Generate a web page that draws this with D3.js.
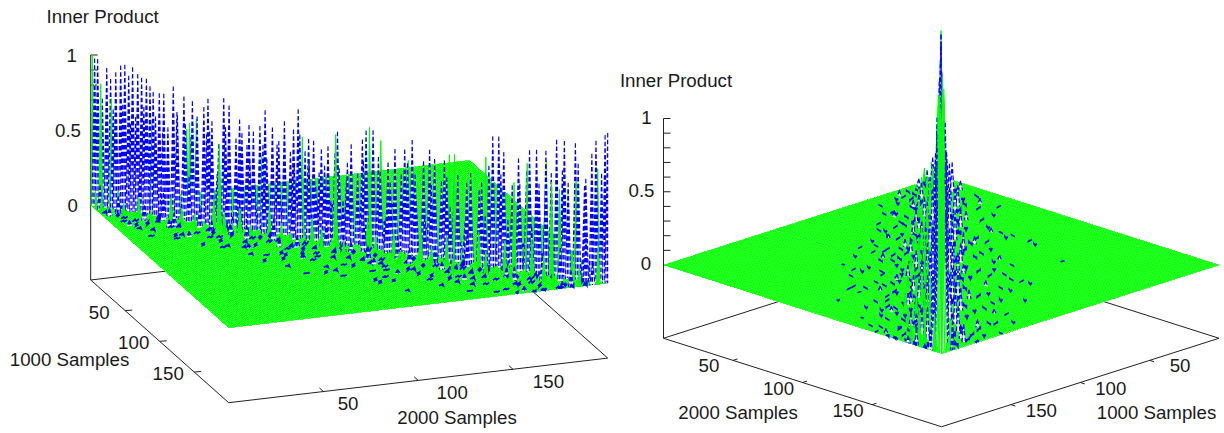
<!DOCTYPE html>
<html><head><meta charset="utf-8">
<script src="https://cdn.jsdelivr.net/npm/d3@7"></script>
<style>html,body{margin:0;background:#fff}svg{display:block}text{font-family:"Liberation Sans",Arial,sans-serif;font-size:18.7px;fill:#1a1a1a}</style>
</head><body><svg id="c" width="1224" height="433"></svg>
<script>
// Values. Position is given along the diagonal of the matrix (u) and across it (v).
const zTicks=[0,0.1,0.2,0.3,0.4,0.5,0.6,0.7,0.8,0.9,1];
const zTickLabels=[0,0.5,1];
const sampleTicks=[50,100,150];
const tallBlue=[[1.5,0,.98],[2.7,0,.98],[6.2,0,.93],[7.7,0,.86],[9.7,0,.91],[11.6,0,.96],[13.2,0,.97],[14.7,0,.9],[16.2,0,.96],[18.2,0,.92],[19.7,0,.9],[21.7,.3,.9],[22.8,-.3,.85],[24.4,.5,.82],[26.3,-.5,.81],[28.6,.7,.82],[31.7,-.5,.87],[34,1,.69],[35.6,-1,.81],[39.8,1,.8],[43.3,-1,.76],[45.6,.5,.83],[47.6,1.5,.69],[51,-1,.84],[54,1,.81],[56.9,-1.5,.71],[59.2,1.5,.64],[61,-.5,.69],[63.4,1,.66],[65,-1,.69],[67.7,.5,.81],[69.6,-1.5,.69],[75.4,1,.76],[78,-1,.7],[80.5,.5,.85],[81.6,1.5,.69],[83.6,-1.5,.65],[86.7,1,.66],[89,-.5,.6],[92.5,1.5,.64],[95,-1,.73],[101,.5,.67],[104.4,-1.5,.7],[107,1,.78],[109,-.5,.78],[118.4,1.5,.69],[121,-1,.68],[124.6,.5,.76],[130.4,-1.5,.7],[133.5,1,.66],[136.6,-.5,.65],[156,1,.87],[157.4,-1,.86],[160.5,1.5,.78],[164.8,-1.5,.73],[170,.5,.81],[172,-1,.81],[176.8,1.5,.83],[180,-.5,.9],[183.7,1,.91],[186.8,-1.5,.89],[188.8,.5,.77],[193.4,-1,.84],[195.7,.5,.94],[199,0,.985],[200,0,1]];
const lowBlue=[[4.5,0,.72],[8.7,0,.66],[12.4,0,.7],[15.5,.2,.58],[17.3,-.2,.63],[20.8,.5,.71],[23.6,-.5,.6],[25.4,.7,.66],[27.5,-.7,.55],[30.1,.5,.6],[32.9,-1,.7],[37.1,1,.64],[38.5,-.5,.55],[41.4,.5,.7],[44.4,-1,.58],[46.7,1.5,.62],[49.3,-.5,.53],[52.6,1,.66],[55.5,-1.5,.58],[58,.5,.5],[60,-1,.55],[62.2,1.5,.47],[66.4,-.5,.57],[68.6,1,.49],[71.4,-1.5,.58],[73,.5,.62],[76.8,-1,.55],[79.2,1,.47],[82.7,-.5,.57],[85.1,1.5,.52],[87.9,-1,.44],[90.7,.5,.5],[93.8,-1.5,.58],[96.6,1,.5],[98.7,-.5,.42],[100,1.5,.55],[102.8,-1,.47],[105.7,.5,.57],[110.6,-1.5,.6],[112.5,1,.52],[114.8,-.5,.58],[116.6,1.5,.46],[119.7,-1,.51],[122.8,.5,.6],[126.2,1.5,.54],[128.3,-1,.62],[132,.5,.48],[135,-1.5,.5],[138.2,1,.55],[140.4,-.5,.5],[142.7,1.5,.58],[145,-1,.52],[147.2,.5,.6],[149.6,-1.5,.48],[151.7,1,.55],[153.8,-.5,.66],[158.9,.5,.62],[162.6,-1,.55],[166.7,1.5,.58],[168.4,-.5,.66],[173.9,1,.6],[175.2,-1.5,.56],[178.4,.5,.68],[182,-1,.7],[185.4,1.5,.64],[190.8,-.5,.62],[192,1,.68],[197.4,-.5,.72]];
const midBlue=[[5,3,.16],[9,-2,.22],[13,5,.12],[17,-4,.2],[20,2,.28],[24,7,.1],[27,-3,.25],[30,4,.18],[33,-6,.14],[36,8,.09],[39,2,.3],[42,-5,.17],[45,6,.13],[48,-2,.32],[51,9,.08],[54,3,.24],[57,-7,.12],[60,5,.19],[62,-3,.3],[65,10,.09],[68,2,.34],[71,-5,.2],[74,7,.14],[77,-2,.28],[80,4,.22],[83,-8,.12],[85,11,.08],[88,2,.36],[91,-4,.24],[94,6,.17],[97,-7,.13],[99,3,.3],[102,9,.11],[105,-3,.28],[108,5,.2],[111,-6,.15],[113,12,.08],[116,3,.33],[119,-4,.25],[122,7,.15],[125,-2,.34],[128,10,.1],[131,4,.28],[134,-6,.18],[137,8,.13],[140,2,.36],[143,-4,.24],[145,12,.08],[148,5,.22],[151,-7,.15],[154,3,.34],[157,9,.12],[160,-3,.3],[163,6,.18],[166,-5,.24],[169,11,.09],[172,3,.32],[175,-6,.17],[178,7,.16],[181,-2,.36],[184,5,.22],[187,-8,.12],[190,9,.11],[193,3,.3],[196,-4,.2],[198,6,.14],[11,8,.05],[22,15,.04],[35,10,.05],[46,17,.04],[58,8,.06],[70,19,.03],[79,13,.05],[92,21,.03],[104,7,.06],[117,16,.04],[129,22,.03],[141,11,.05],[153,18,.04],[165,9,.06],[177,20,.03],[189,13,.05],[15,-7,.06],[31,-14,.04],[49,-9,.06],[63,-18,.03],[76,-12,.05],[94,-21,.03],[109,-8,.06],[124,-16,.04],[138,-10,.06],[155,-19,.03],[170,-13,.05],[183,-7,.06]];
const tallGreen=[[.6,0,1],[4,.3,.82],[8,0,.73],[24,.3,.62],[37,-.3,.6],[38.5,.5,.65],[41,.3,.68],[50,.5,.54],[66,-.5,.5],[82,.3,.67],[95,.5,.72],[108,.3,.8],[112,-.5,.72],[123,.3,.62],[139,.5,.7],[140.5,-.5,.7],[153,.3,.72],[164,.5,.58],[169,.3,.72],[176,-.5,.75],[178.5,.5,.62],[181.5,.3,.58],[184.5,-.5,.58],[188,.5,.65],[196,-.3,.75]];
const lowGreen=[[3,4,.12],[7,6,.1],[12,3,.14],[16,7,.09],[21,5,.13],[27,8,.08],[33,4,.16],[38,6,.11],[44,8,.1],[49,3,.18],[55,7,.13],[60,5,.16],[66,9,.09],[71,4,.2],[77,7,.12],[82,10,.08],[88,5,.17],[93,8,.13],[98,6,.2],[103,11,.09],[109,4,.21],[114,8,.14],[120,6,.18],[125,12,.08],[130,5,.22],[136,9,.13],[141,7,.2],[146,13,.09],[152,4,.24],[157,9,.15],[163,6,.22],[168,12,.11],[173,5,.25],[179,8,.17],[184,11,.12],[189,6,.2],[194,9,.12],[198,3,.25]];
const noiseBlue=[[61.7,22.9,.04],[80.9,29.7,.03],[90.4,30.9,.03],[100,35.8,.02],[105.8,32.1,.03],[107.7,28.4,.04],[96.2,22.3,.05],[111.5,21.6,.04],[115.3,16.1,.05],[94.3,15.5,.06],[82.8,19.8,.04],[73.2,24.7,.03],[126.8,27.8,.04],[124.9,32.1,.03],[139.5,37.1,.02],[142.2,24.1,.04],[147.9,19.8,.05],[157.5,21.6,.04],[170.9,22.3,.04],[130.7,17.3,.05],[111.5,14.2,.06],[56,13.6,.05],[69.4,8.7,.08],[44.5,5.6,.09],[63.6,5.6,.1],[52.1,10.5,.06],[42.5,16.1,.04],[86.6,8.1,.09],[105.8,9.3,.08],[126.8,10.5,.07],[147.9,8.7,.08],[169,9.3,.07],[146,5,.12],[161.3,3.1,.14],[180.5,4.4,.12],[144,13.6,.06],[163.2,14.2,.05],[172.8,15.5,.05],[82.8,11.8,.07],[33,-8,.07],[50.2,-14.2,.05],[52.1,-6.1,.09],[69.4,-4.3,.1],[71.3,-12.3,.06],[82.8,-17.9,.05],[92.4,-11.7,.06],[84.7,-8,.08],[115.3,-10.5,.07],[117.3,-6.8,.09],[98.1,-4.3,.1],[105.8,-19.1,.05],[111.5,-22.2,.04],[119.2,-28.4,.03],[121.1,-32.1,.03],[117.3,-24.7,.04],[136.4,-12.9,.06],[140.2,-21.5,.04],[147.9,-8,.08],[159.4,-3.7,.11],[159.4,-9.2,.07],[167,-16.6,.05],[167,-19.1,.05],[180.5,-15.4,.05],[192,-4.9,.1],[180.5,-10.5,.07],[140.2,-30.2,.03],[126.8,-20.9,.04],[73.2,-31.4,.03],[77,-33.9,.03],[67.4,-25.3,.03],[96.2,-43.2,.02],[69.4,-23.4,.04],[18.4,12.4,.05],[27,11.2,.06],[31,15.5,.04],[33.7,22.3,.03],[17.6,-4.9,.08],[27,-8,.07],[23.4,-12.3,.05],[34.8,-20.3,.03],[34.8,8.1,.08],[11.9,3.1,.12],[10,-.5,.14],[6.1,-3.7,.1],[113,33,.03],[127.5,33.8,.03],[151.5,21.4,.04],[169,26,.03],[90,17.8,.05],[101,16,.05],[21.9,10.1,.06],[14,8,.07],[38,9,.07],[47,13,.05],[58,17,.04],[66,14,.05],[74,11,.07],[88,13,.06],[99,11,.08],[118,12,.07],[134,12,.07],[152,11,.08],[176,12,.07],[188,10,.07],[195,14,.05],[122,18,.05],[136,20,.04],[155,16,.05],[184,18,.04],[40,-6,.08],[60,-9,.07],[77,-10,.07],[90,-7,.09],[104,-9,.08],[128,-8,.08],[139,-6,.1],[153,-12,.06],[174,-7,.09],[186,-9,.07],[58,-17,.04],[88,-14,.05],[108,-13,.06],[133,-17,.05],[150,-15,.05],[174,-13,.06],[48,-4,.12],[66,-6,.12],[80,-4,.13],[95,-6,.12],[112,-4,.14],[125,-5,.13],[143,-4,.14],[165,-5,.12],[182,-4,.14],[28,4,.12],[55,5,.13],[72,6,.12],[92,6,.11],[110,6,.12],[136,6,.12],[156,6,.12],[175,6,.12],[192,5,.12],[26,16,.03],[43,21,.03],[54,23,.03],[68,19,.04],[79,24,.03],[86,25,.03],[103,26,.03],[120,24,.03],[131,30,.02],[148,27,.03],[160,29,.02],[177,25,.03],[188,22,.03],[194,19,.03],[37,-13,.05],[44,-19,.03],[64,-21,.03],[75,-16,.05],[97,-19,.04],[101,-25,.03],[113,-17,.05],[129,-25,.03],[144,-18,.04],[156,-23,.03],[165,-26,.03],[178,-21,.03],[190,-15,.04],[8,6,.05],[17,9,.05],[24,14,.04],[29,7,.06],[36,11,.05],[41,18,.03],[49,8,.06],[53,15,.04],[59,10,.06],[62,20,.03],[67,10,.06],[71,16,.04],[76,8,.07],[83,15,.05],[85,21,.03],[91,10,.06],[96,18,.04],[100,7,.08],[106,14,.05],[108,22,.03],[114,9,.07],[119,15,.05],[124,21,.04],[128,7,.08],[132,16,.05],[138,10,.07],[141,20,.04],[145,9,.07],[150,17,.05],[154,8,.08],[158,13,.06],[162,20,.04],[166,10,.07],[171,15,.05],[174,9,.07],[180,14,.06],[183,22,.03],[187,13,.06],[191,16,.05],[197,9,.07]];
const panels=[
 {origin:[90.7,205],iVec:[138,122.7],jVec:[379,-44.6],zPx:150,meshW:.74,
  yLabel:["Inner Product",102.6,23],iLabel:["1000 Samples",69.5,366],jLabel:["2000 Samples",457,424],
  zLab:{x:{0:-18,0.5:-22.7,1:-19},dy:6.5},iLab:{dx:-26,dy:8},jLab:{dx:[24.6,34,35.5],dy:18.5},iTick:[7,-.6],jTick:[-4,-3.6]},
 {origin:[941,176.5],iVec:[-277.5,88.5],jVec:[278,88.5],zPx:146.5,meshW:.64,
  yLabel:["Inner Product",676,87],iLabel:["1000 Samples",1156.5,419],jLabel:["2000 Samples",738,419],
  zLab:{x:{0:-17.5,0.5:-22,1:-17},dy:5},iLab:{dx:30.5,dy:12},jLab:{dx:[-24,-24,-24],dy:12},iTick:[4.5,1.4],jTick:[4.5,-1.4]}
];
const gridLevels=d3.range(0,201);
const svg=d3.select("#c");
panels.forEach((p,pi)=>{
  const g=svg.append("g");
  const isLeft=pi===0;
  const sxI=d3.scaleLinear([0,200],[0,p.iVec[0]]), syI=d3.scaleLinear([0,200],[0,p.iVec[1]]);
  const sxJ=d3.scaleLinear([0,200],[0,p.jVec[0]]), syJ=d3.scaleLinear([0,200],[0,p.jVec[1]]);
  const sz=d3.scaleLinear([0,1],[0,-p.zPx]);
  const P=(i,j,z=0)=>[p.origin[0]+sxI(i)+sxJ(j),p.origin[1]+syI(i)+syJ(j)+sz(z)];
  const line=d3.line();
  const axisCol="#222";
  const path=(pts)=>g.append("path").attr("d",line(pts)).attr("fill","none").attr("stroke",axisCol).attr("stroke-width",1);
  const zb=-0.5;
  path([P(0,0,zb),P(200,0,zb),P(200,200,zb),P(0,200,zb),P(0,0,zb)]);
  const ca=isLeft?[0,0]:[200,0];
  path([P(ca[0],ca[1],zb),P(ca[0],ca[1],1)]);
  zTicks.forEach(t=>{const a=P(ca[0],ca[1],t);path([a,[a[0]+7,a[1]]]);});
  zTickLabels.forEach(t=>{const a=P(ca[0],ca[1],t);
    g.append("text").attr("x",a[0]+p.zLab.x[t]).attr("y",a[1]+p.zLab.dy).attr("text-anchor","middle").text(t);});
  sampleTicks.forEach((t,k)=>{
    const a=isLeft?P(t,0,zb):P(t,200,zb);
    path([a,[a[0]+p.iTick[0],a[1]+p.iTick[1]]]);
    g.append("text").attr("x",a[0]+p.iLab.dx).attr("y",a[1]+p.iLab.dy).attr("text-anchor","middle").text(t);
    const b=P(200,t,zb);
    path([b,[b[0]+p.jTick[0],b[1]+p.jTick[1]]]);
    g.append("text").attr("x",b[0]+p.jLab.dx[k]).attr("y",b[1]+p.jLab.dy).attr("text-anchor","middle").text(t);
  });
  [p.yLabel,p.iLabel,p.jLabel].forEach(l=>g.append("text").attr("x",l[1]).attr("y",l[2]).attr("text-anchor","middle").text(l[0]));
  g.append("path").attr("d",line([P(0,0),P(200,0),P(200,200),P(0,200)])+"Z").attr("fill","#fff");
  const meshD=gridLevels.map(a=>line([P(a,0),P(a,200)])+line([P(0,a),P(200,a)])).join("");
  g.append("path").attr("d",meshD).attr("fill","none").attr("stroke","#00ff00").attr("stroke-width",p.meshW).attr("shape-rendering","crispEdges");
  const marks=[];
  const clip=v=>Math.max(0,Math.min(200,v));
  const add=(arr,kind)=>arr.forEach(([u,v,z])=>{const i=clip(u+v),j=clip(u-v);marks.push({i,j,z,u,v,kind,k:marks.length,d:P(i,j)[1]});});
  add(tallBlue,"blue");add(lowBlue,"blue");add(midBlue,"blue");add(tallGreen,"green");add(lowGreen,"green");add(noiseBlue,"noise");
  marks.sort((a,b)=>a.d-b.d).forEach(m=>{
    const T=P(m.i,m.j,m.z);
    if(m.kind==="noise"){
      const h=m.z*.3, n=m.k%3;
      const pts=n===0?[P(clip(m.i-1),clip(m.j-1)),P(m.i,m.j,h),P(clip(m.i-1),clip(m.j+1)),P(m.i,clip(m.j+2),h)]
        :n===1?[P(clip(m.i-2),m.j),P(clip(m.i-1),clip(m.j+1),h),P(m.i,m.j),P(clip(m.i+1),clip(m.j+1),h)]
        :[P(m.i,clip(m.j-1)),P(clip(m.i+1),m.j,h),P(clip(m.i+1),clip(m.j+1)),P(m.i,clip(m.j+1),h),P(m.i,m.j)];
      g.append("path").attr("d",line(pts)).attr("fill","none").attr("stroke","#0000ff").attr("stroke-width",1.7);
    } else if(m.kind==="green"){
      const L=P(m.i,clip(m.j-1)),R=P(m.i,clip(m.j+1));
      g.append("path").attr("d",line([L,T,R])+"Z").attr("fill","#00ff00").attr("stroke","#00ff00").attr("stroke-width",1);
    } else {
      const L=P(m.i,clip(m.j-1.4)),R=P(m.i,clip(m.j+1.4));
      const A=P(clip(m.i-1.2),m.j),B=P(clip(m.i+1.2),m.j);
      g.append("path").attr("d",line([L,T,R])+"Z").attr("fill","#fff").attr("stroke","none");
      const seenFromTop=!isLeft&&m.u>30&&Math.abs(m.v)<=1;
      const s=g.append("path").attr("d",line([T,L])+line([T,R])+(seenFromTop?"":line([T,A])+line([T,B]))).attr("fill","none").attr("stroke",seenFromTop?"#00ff00":"#0000ff").attr("stroke-width",1.1);
      if(!seenFromTop) s.attr("stroke-dasharray","4.5 2.2");
    }
  });
});
</script></body></html>
